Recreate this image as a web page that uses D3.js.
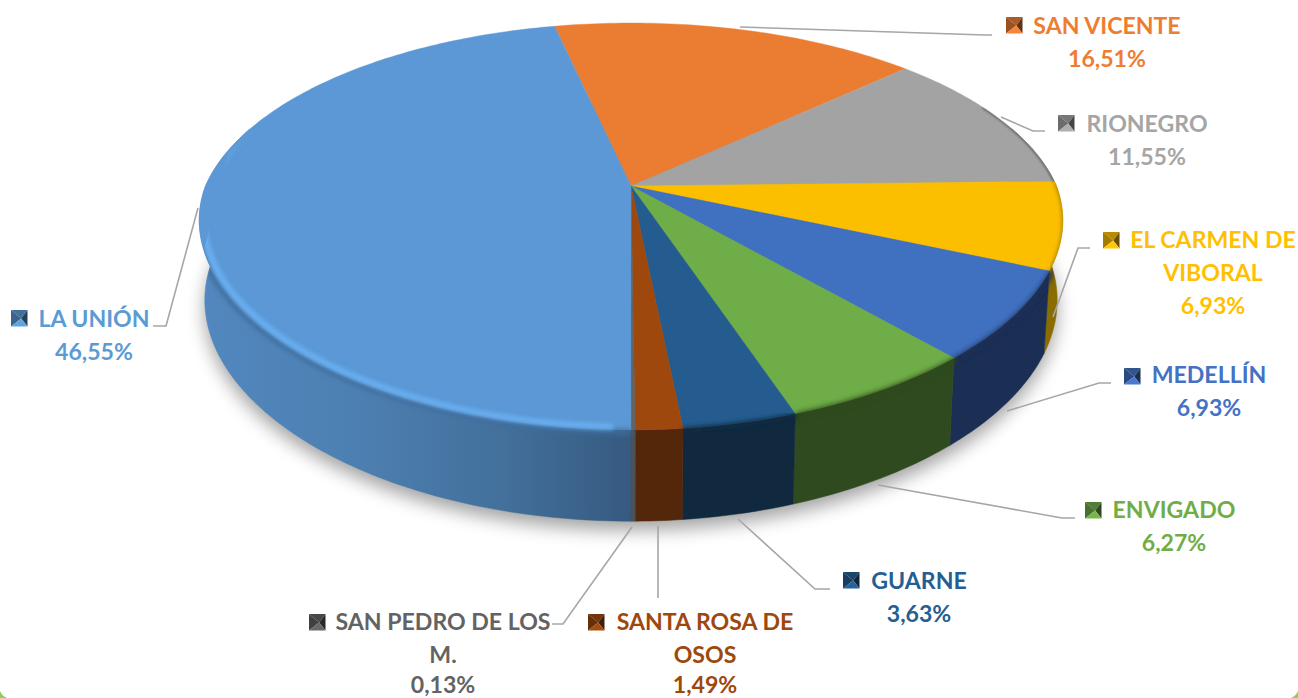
<!DOCTYPE html>
<html><head><meta charset="utf-8">
<style>html,body{margin:0;padding:0;background:#fff;overflow:hidden}svg{display:block}
text{font-family:Lato,"Open Sans",sans-serif;font-weight:700;font-size:23.1px;text-anchor:middle}</style>
<script src="https://cdn.jsdelivr.net/npm/d3@7"></script>
</head><body>
<svg id="c" width="1298" height="698"></svg>
<script>
const categories = ["SAN VICENTE","RIONEGRO","EL CARMEN DE VIBORAL","MEDELLÍN","ENVIGADO","GUARNE","SANTA ROSA DE OSOS","SAN PEDRO DE LOS M.","LA UNIÓN"];
const values = [16.51,11.55,6.93,6.93,6.27,3.63,1.49,0.13,46.55];
const nameLines = [["SAN VICENTE"],["RIONEGRO"],["EL CARMEN DE","VIBORAL"],["MEDELLÍN"],["ENVIGADO"],["GUARNE"],["SANTA ROSA DE","OSOS"],["SAN PEDRO DE LOS","M."],["LA UNIÓN"]];
const topColors = ["#ed7d31","#a5a5a5","#ffc000","#4472c4","#70ad47","#255e91","#9e480e","#636363","#5b9bd5"];
const topFill = ["#ea7d31","#a3a3a3","#fcbf00","#4070c0","#6ead47","#255c8f","#9e480e","#636363","#5b98d5"];
const wallColors = ["#8e4b1d","#5e5e5e","#8a6c00","#1b2e54","#2e4a1e","#10293f","#55270a","#4b525a","url(#wallLU)"];
const rimColors = ["#8e4b1d","#5e5e5e","#8a6c00","#1b2e54","#2e4a1e","#10293f","#55270a","#4b525a","#3f6d9c"];
const startDeg = -12.4;

// label layout: text centre x, first baseline y, key x, key y
const labelX = [1107,1147,1213,1209,1174,919,705,443,94];
const labelY = [33.5,131.5,248,383,518,589,629.5,629.5,326.5];
const keyX = [1006,1058,1103,1124,1085,843,588,309,11];
const keyY = [17,115,232,368,502,572,614,614,310];
const leaders = [
  [[740,27],[985,35],[992,35]],
  [[1001,117],[1033,131],[1045,131]],
  [[1053,317],[1078,248],[1090,248]],
  [[1007,411],[1099,383],[1111,383]],
  [[878,485],[1062,518],[1075,518]],
  [[738,519],[815,589],[830,589]],
  [[658,526],[658,598]],
  [[632,527],[563,624],[552,624]],
  [[198,208],[166,326],[153,326]]
];

const svg = d3.select("#c");
const defs = svg.append("defs");
const cx = 631;
const topPlane = {c:186, A:425.5, B:195.4, k:0.199, kFront:0.17};
const botPlane = {c:264, A:420, B:206, k:0.199, kFront:0.17};
const DEG = Math.PI/180;
const wallFrom = 72*DEG, wallTo = 288*DEG; // part of the turn where the wall can be seen
function proj(a, pl, r=1){ // a = radians clockwise from top
  const X = Math.sin(a)*r, Y = -Math.cos(a)*r;
  const w = 1/(1-pl.k*Y), wx = 1/(1-(Y>0?pl.kFront:pl.k)*Y);
  return [cx+pl.A*X*wx, pl.c+pl.B*Y*w];
}
const arcPts = (a0,a1,pl,r=1)=>{
  const n = Math.max(2,Math.ceil(Math.abs(a1-a0)/DEG));
  return d3.range(n+1).map(i=>proj(a0+(a1-a0)*i/n,pl,r));
};
const line = d3.line();
const closed = pts => line(pts)+"Z";

// first slice starts a little before 12 o'clock, so angles run -12.4° .. 347.6°
const pie = d3.pie().sort(null).value(d=>d).startAngle(startDeg*DEG).endAngle((startDeg+360)*DEG);
const arcs = pie(values).map((d,i)=>({...d,i}));
const wallRange = d=>{
  const a0=Math.max(d.startAngle,wallFrom), a1=Math.min(d.endAngle,wallTo);
  return a1>a0?[a0,a1]:null;
};
const wallArcs = arcs.filter(wallRange);

// filters & gradients
const blur = (id,s)=>defs.append("filter").attr("id",id)
  .attr("x","-10%").attr("y","-10%").attr("width","120%").attr("height","120%")
  .append("feGaussianBlur").attr("stdDeviation",s);
blur("shadow",9); blur("rim",2.6); blur("hi",2.2); blur("thin",0.8);
const g1 = defs.append("linearGradient").attr("id","wallLU").attr("gradientUnits","userSpaceOnUse")
  .attr("x1",198).attr("x2",631).attr("y1",0).attr("y2",0);
[[0,"#5288bf"],[0.35,"#4d80b2"],[0.7,"#43709c"],[1,"#365a80"]].forEach(s=>g1.append("stop").attr("offset",s[0]).attr("stop-color",s[1]));
const g2 = defs.append("linearGradient").attr("id","hiFade").attr("gradientUnits","userSpaceOnUse")
  .attr("x1",0).attr("x2",0).attr("y1",125).attr("y2",225);
g2.append("stop").attr("offset",0).attr("stop-color","#6cb2f5").attr("stop-opacity",0);
g2.append("stop").attr("offset",1).attr("stop-color","#6cb2f5").attr("stop-opacity",1);

const cp = defs.append("clipPath").attr("id","body");
const wallPoly = d => {
  const [a0,a1]=wallRange(d);
  return closed(arcPts(a0,a1,topPlane).concat(arcPts(a1,a0,botPlane)));
};
cp.append("path").attr("d",closed(arcPts(0,2*Math.PI,topPlane)));
wallArcs.forEach(d=>cp.append("path").attr("d",wallPoly(d)));

// shadow
svg.append("path").attr("d",closed(arcPts(0,2*Math.PI,botPlane)))
  .attr("transform","translate(0,9)").attr("fill","#000").attr("opacity",0.36).attr("filter","url(#shadow)");

// walls
const midY = d=>-Math.cos((d.startAngle+d.endAngle)/2);
svg.append("g").selectAll("path").data(wallArcs.slice().sort((a,b)=>midY(a)-midY(b))).join("path")
  .attr("d",wallPoly).attr("fill",d=>wallColors[d.i]).attr("stroke",d=>wallColors[d.i]).attr("stroke-width",0.5);

// top face
svg.append("g").selectAll("path").data(arcs).join("path")
  .attr("d",d=>closed([[cx,topPlane.c]].concat(arcPts(d.startAngle,d.endAngle,topPlane))))
  .attr("fill",d=>topFill[d.i]).attr("stroke",d=>topFill[d.i]).attr("stroke-width",0.4);

// rim shading
const rim = svg.append("g").attr("clip-path","url(#body)").attr("fill","none");
arcs.forEach(d=>{
  let a0=d.startAngle,a1=d.endAngle;
  if(d.i===8){a1=254*DEG;}
  if(d.i===0) return;
  if(d.i===1){ // rear rim: thin dark edge only
    rim.append("path").attr("d",line(arcPts(64*DEG,a1,topPlane,0.999)))
      .attr("stroke",rimColors[d.i]).attr("stroke-width",2).attr("filter","url(#thin)");
    return;
  }
  rim.append("path").attr("d",line(arcPts(a0,a1,topPlane,1.006)))
    .attr("stroke",rimColors[d.i]).attr("stroke-width",5).attr("filter","url(#rim)");
});
// highlight on the big slice, fading out towards the back
rim.append("path").attr("d",line(arcPts(182*DEG,300*DEG,topPlane,0.99)))
  .attr("stroke","url(#hiFade)").attr("stroke-width",6).attr("opacity",0.95).attr("filter","url(#hi)");

// leader lines
svg.append("g").selectAll("path").data(leaders).join("path")
  .attr("d",d=>line(d)).attr("fill","none").attr("stroke","#a6a6a6").attr("stroke-width",1.6);

// legend keys (pyramid bevels)
const shade = (c,f)=>f<1?d3.rgb(c).darker((1-f)*3.2):d3.rgb(c).brighter((f-1)*3);
const keySize = 16.5;
arcs.forEach(d=>{
  const i=d.i, x=keyX[i], y=keyY[i], s=keySize, mx=x+s*0.62, my=y+s*0.52, c=topColors[i];
  const k = svg.append("g");
  const tri=(p,f)=>k.append("path").attr("d",closed(p)).attr("fill",shade(c,f));
  tri([[x,y],[x+s,y],[mx,my]],0.72);
  tri([[x,y],[mx,my],[x,y+s]],0.62);
  tri([[x+s,y],[x+s,y+s],[mx,my]],0.22);
  tri([[x,y+s],[x+s,y+s],[mx,my]],1.05);
});

// labels
const fmt = d3.formatLocale({decimal:",",thousands:".",grouping:[3],currency:["",""]}).format(".2f");
const lh = 33.2, maxBaseline = 693;
arcs.forEach(d=>{
  const i=d.i;
  const t = svg.append("text").attr("fill",topColors[i]);
  nameLines[i].concat([fmt(values[i])+"%"]).forEach((s,j)=>
    t.append("tspan").attr("x",labelX[i]).attr("y",Math.min(maxBaseline,labelY[i]+j*lh)).text(s));
});

// rounded frame corners
svg.append("path").attr("d","M0,691 Q2,696 7,698 L0,698Z").attr("fill","#8fd14f");
svg.append("path").attr("d","M1298,691 Q1296,696 1291,698 L1298,698Z").attr("fill","#8fd14f");
</script>
</body></html>
